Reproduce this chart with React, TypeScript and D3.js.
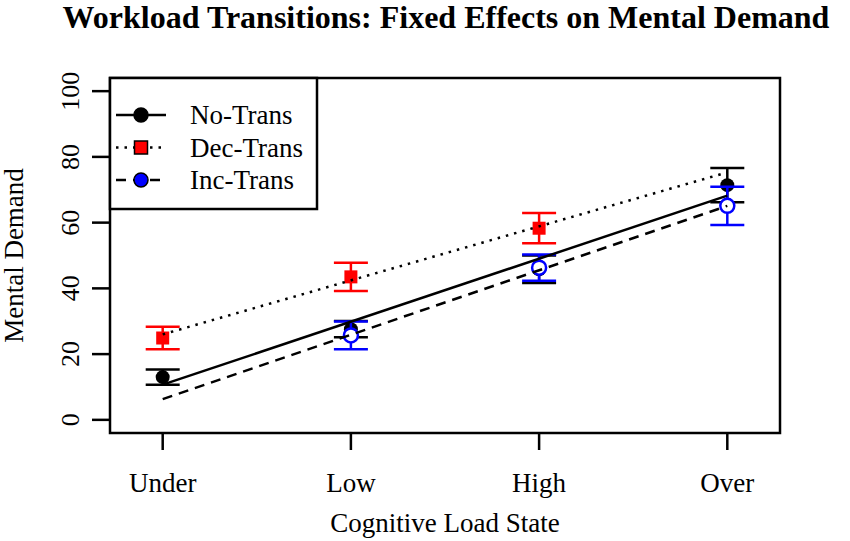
import * as d3 from "d3";

// categories and values
const categories = ["Under", "Low", "High", "Over"];

const noTransMean = [13.0, 27.6, 45.8, 71.4];
const noTransErr = [2.3, 2.5, 4.2, 5.2];

const decTransMean = [24.9, 43.5, 58.3, null];
const decTransErr = [3.4, 4.3, 4.6, null];

const incTransMean = [null, 25.7, 46.3, 65.1];
const incTransErr = [null, 4.2, 4.0, 5.8];

// fitted lines: value at first and last category
const noTransFit = [10.7, 68.2];
const decTransFit = [26.0, 75.3];
const incTransFit = [6.3, 65.1];

const yTicks = [0, 20, 40, 60, 80, 100];
const legendLabels = ["No-Trans", "Dec-Trans", "Inc-Trans"];

const W = 850;
const H = 541;
const box = { left: 110, right: 780, top: 78, bottom: 433 };
const FONT = "'Liberation Serif', 'Times New Roman', serif";

const dashes = { solid: undefined, dotted: "2.5 6", dashed: "10 7" } as const;

export default function App() {
    const x = d3
        .scalePoint<string>()
        .domain(categories)
        .range([box.left, box.right])
        .padding(0.28);
    const y = d3.scaleLinear().domain([-4, 104]).range([box.bottom, box.top]);

    const fitLine = d3
        .line<[string, number]>()
        .x((d) => x(d[0])!)
        .y((d) => y(d[1]));
    const first = categories[0];
    const last = categories[categories.length - 1];

    const errorBars = (
        means: (number | null)[],
        errs: (number | null)[],
        color: string
    ) =>
        means.map((m, i) => {
            const e = errs[i];
            if (m == null || e == null) return null;
            const cx = x(categories[i])!;
            return (
                <g key={i} stroke={color} strokeWidth={2.5}>
                    <line x1={cx} x2={cx} y1={y(m - e)} y2={y(m + e)} />
                    <line x1={cx - 17} x2={cx + 17} y1={y(m - e)} y2={y(m - e)} />
                    <line x1={cx - 17} x2={cx + 17} y1={y(m + e)} y2={y(m + e)} />
                </g>
            );
        });

    const legendRows = [
        { label: legendLabels[0], dash: dashes.solid, kind: "circle", fill: "#000" },
        { label: legendLabels[1], dash: dashes.dotted, kind: "square", fill: "#ff0000" },
        { label: legendLabels[2], dash: dashes.dashed, kind: "circle", fill: "#0000ff" },
    ];

    return (
        <svg
            width={W}
            height={H}
            style={{ position: "absolute", top: 0, left: 0, background: "#fff" }}
            fontFamily={FONT}
        >
            {/* Title */}
            <text
                x={446}
                y={28}
                textAnchor="middle"
                fontSize={32}
                fontWeight="bold"
            >
                Workload Transitions: Fixed Effects on Mental Demand
            </text>

            {/* Y axis */}
            {yTicks.map((t) => (
                <g key={t}>
                    <line x1={box.left - 18} x2={box.left} y1={y(t)} y2={y(t)} stroke="#000" strokeWidth={2.5} />
                    <text
                        transform={`translate(79,${y(t)}) rotate(-90)`}
                        textAnchor="middle"
                        fontSize={26}
                    >
                        {t}
                    </text>
                </g>
            ))}
            <text
                transform={`translate(23,${(box.top + box.bottom) / 2}) rotate(-90)`}
                textAnchor="middle"
                fontSize={27}
            >
                Mental Demand
            </text>

            {/* X axis */}
            {categories.map((c) => (
                <g key={c}>
                    <line x1={x(c)} x2={x(c)} y1={box.bottom} y2={box.bottom + 17} stroke="#000" strokeWidth={2.5} />
                    <text x={x(c)} y={492} textAnchor="middle" fontSize={27}>
                        {c}
                    </text>
                </g>
            ))}
            <text x={(box.left + box.right) / 2} y={532} textAnchor="middle" fontSize={27}>
                Cognitive Load State
            </text>

            {/* Error bars and points */}
            {errorBars(noTransMean, noTransErr, "#000")}
            {noTransMean.map((m, i) =>
                m == null ? null : <circle key={i} cx={x(categories[i])} cy={y(m)} r={7} fill="#000" />
            )}
            {errorBars(decTransMean, decTransErr, "#ff0000")}
            {decTransMean.map((m, i) =>
                m == null ? null : (
                    <rect key={i} x={x(categories[i])! - 6.5} y={y(m) - 6.5} width={13} height={13} fill="#ff0000" />
                )
            )}
            {errorBars(incTransMean, incTransErr, "#0000ff")}
            {incTransMean.map((m, i) =>
                m == null ? null : (
                    <circle key={i} cx={x(categories[i])} cy={y(m)} r={7} fill="#fff" stroke="#0000ff" strokeWidth={2.5} />
                )
            )}

            {/* Fitted lines */}
            {[
                { fit: noTransFit, dash: dashes.solid },
                { fit: decTransFit, dash: dashes.dotted },
                { fit: incTransFit, dash: dashes.dashed },
            ].map(({ fit, dash }, i) => (
                <path
                    key={i}
                    d={fitLine([[first, fit[0]], [last, fit[1]]])!}
                    fill="none"
                    stroke="#000"
                    strokeWidth={2.5}
                    strokeDasharray={dash}
                />
            ))}

            {/* Plot box */}
            <rect
                x={box.left}
                y={box.top}
                width={box.right - box.left}
                height={box.bottom - box.top}
                fill="none"
                stroke="#000"
                strokeWidth={2.5}
            />

            {/* Legend */}
            <rect x={box.left} y={box.top} width={207} height={131} fill="#fff" stroke="#000" strokeWidth={2.5} />
            {legendRows.map((r, i) => {
                const cy = 115 + i * 32.5;
                return (
                    <g key={r.label}>
                        <line x1={116} x2={166} y1={cy} y2={cy} stroke="#000" strokeWidth={2.5} strokeDasharray={r.dash} />
                        {r.kind === "circle" ? (
                            <circle cx={141} cy={cy} r={7} fill={r.fill} stroke="#000" strokeWidth={1.5} />
                        ) : (
                            <rect x={134.5} y={cy - 6.5} width={13} height={13} fill={r.fill} stroke="#000" strokeWidth={1.5} />
                        )}
                        <text x={190} y={cy + 9} fontSize={27}>
                            {r.label}
                        </text>
                    </g>
                );
            })}
        </svg>
    );
}
